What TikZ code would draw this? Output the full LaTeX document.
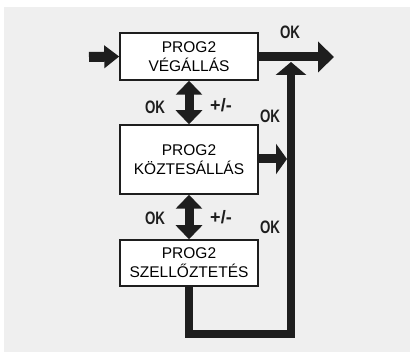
\documentclass[tikz,border=0pt]{standalone}
\usepackage{fontspec}
\setmainfont{Liberation Sans}
\usetikzlibrary{arrows.meta}
\definecolor{bggray}{HTML}{EFEFEF}
\definecolor{ink}{HTML}{1E1E1E}
\begin{document}
\begin{tikzpicture}[x=1pt,y=-1pt,
  box/.style={draw=ink,line width=1.5pt,fill=white,minimum width=138pt,align=center,inner sep=0pt,
    font=\fontsize{15.5}{19}\selectfont},
  lbl/.style={font=\fontsize{18}{18}\selectfont\bfseries,text=ink,inner sep=0pt},
  fat/.style={draw=ink,line width=9pt,line join=miter},
  both/.style={fat,{Triangle[width=26pt,length=14pt]}-{Triangle[width=26pt,length=14pt]}}]
\useasboundingbox (0,0) rectangle (410,352);
\fill[white] (0,0) rectangle (410,352);
\fill[bggray] (4,7) rectangle (410,352);
% boxes
\node[box,minimum height=47pt] (b1) at (189,56.5) {PROG2\\VÉGÁLLÁS};
\node[box,minimum height=69pt] (b2) at (189,159.5) {PROG2\\KÖZTESÁLLÁS};
\node[box,minimum height=46pt] (b3) at (189,263) {PROG2\\SZELLŐZTETÉS};
% coordinates
\coordinate (in) at (89,57);
\coordinate (out) at (334,57);
\coordinate (join) at (291,62);
\coordinate (bot) at (291,334);
\coordinate (j2) at (287,159);
% connectors
\draw[fat,line width=10pt,-{Triangle[width=22pt,length=15pt]}] (in) -- (b1.west);
\draw[fat,-{Triangle[width=30pt,length=16pt]}] (b1.east |- out) -- (out);
\draw[fat,line width=8.5pt,-{Triangle[width=30pt,length=13pt]}] (b3.south) |- (bot) -- (join);
\draw[fat,-{Triangle[width=30pt,length=11pt]}] (b2.east |- j2) -- (j2);
\draw[both] (b1.south) -- (b2.north);
\draw[both] (b2.south) -- (b3.north);
% labels
\node[lbl] (ok0) at (290,32) {\scalebox{0.74}[1]{OK}};
\node[lbl] (ok1) at (155,107) {\scalebox{0.74}[1]{OK}};
\node[lbl] (pm1) at (221,105) {\scalebox{1}[1]{+/-}};
\node[lbl] (ok2) at (270,116) {\scalebox{0.74}[1]{OK}};
\node[lbl] (ok3) at (155,218) {\scalebox{0.74}[1]{OK}};
\node[lbl] (pm2) at (221,217) {\scalebox{1}[1]{+/-}};
\node[lbl] (ok4) at (270,227) {\scalebox{0.74}[1]{OK}};
\end{tikzpicture}
\end{document}
